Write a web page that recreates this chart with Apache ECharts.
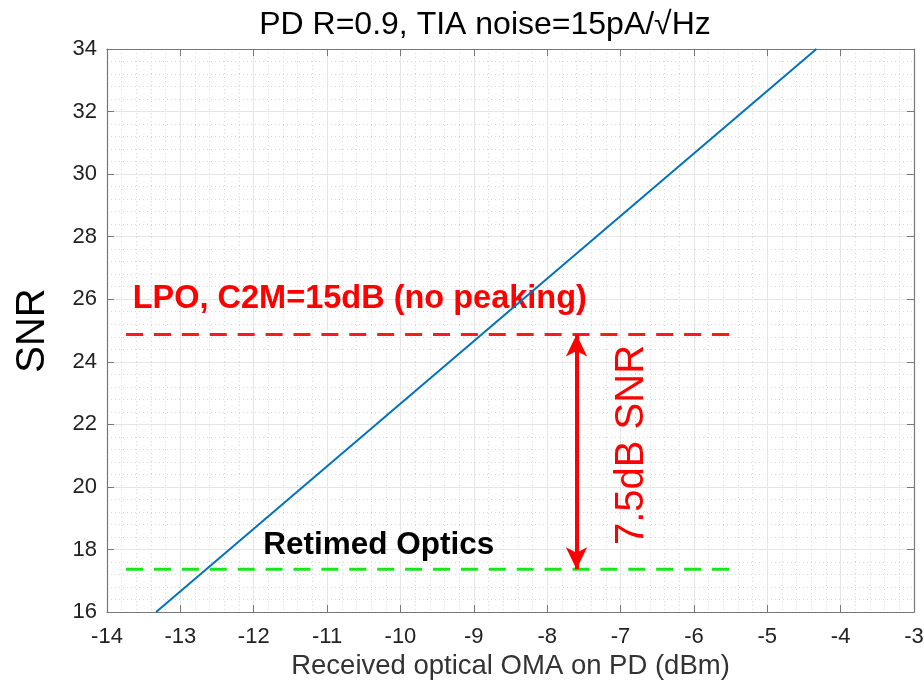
<!DOCTYPE html>
<html><head><meta charset="utf-8">
<script src="https://cdn.jsdelivr.net/npm/echarts@6/dist/echarts.min.js"></script>
<style>html,body{margin:0;padding:0;background:#fff}#c{width:924px;height:681px}</style>
</head><body><div id="c"></div>
<script>
// ---- data ----
const titleText = 'PD R=0.9, TIA noise=15pA/\u221AHz';
const xName = 'Received optical OMA on PD (dBm)';
const yName = 'SNR';
const xRange = [-14, -3];
const yRange = [16, 34];
const snrX = [-13.33, -4.33];
const snrY = [16, 34];
const lpoLevel = 24.87;
const retimedLevel = 17.37;
const refLineX = [-13.74, -5.5];
const arrowX = -7.6;
const lpoLabel = 'LPO, C2M=15dB (no peaking)';
const lpoLabelPos = [-13.65, 26.0];
const retimedLabel = 'Retimed Optics';
const retimedLabelPos = [-11.87, 18.14];
const deltaLabel = '7.5dB SNR';
const deltaLabelPos = [-6.85, 21.34];

const FONT = '"Liberation Sans", Arial, Helvetica, sans-serif';
const chart = echarts.init(document.getElementById('c'));

function pairs(xs, ys){ return xs.map((x,i)=>[x, ys[i]]); }

const baseX = {type:'value', min:xRange[0], max:xRange[1], interval:1};
const baseY = {type:'value', min:yRange[0], max:yRange[1], interval:2};

chart.setOption({
  backgroundColor:'#fff',
  animation:false,
  title:{text:titleText, left:480, textAlign:'center', top:4, textStyle:{fontFamily:FONT, fontSize:32, fontWeight:'normal', color:'#000'}},
  grid:{left:107, right:10, top:49, bottom:69, containLabel:false, outerBoundsMode:'none'},
  xAxis:[
    Object.assign({}, baseX, {
      position:'bottom',
      name:xName, nameLocation:'middle', nameGap:40,
      nameTextStyle:{fontFamily:FONT, fontSize:27.5, color:'#333'},
      axisLine:{onZero:false, lineStyle:{color:'#777', width:1.2}},
      axisTick:{inside:true, length:7, lineStyle:{color:'#777'}},
      axisLabel:{fontFamily:FONT, fontSize:22, color:'#222', margin:14},
      splitLine:{show:true, lineStyle:{color:'#e6e6e6', width:1}},
      minorTick:{show:false, splitNumber:5},
      minorSplitLine:{show:true, lineStyle:{color:'#d8d8d8', width:1, type:[1,3]}}
    }),
    Object.assign({}, baseX, {
      position:'top',
      axisLine:{onZero:false, lineStyle:{color:'#777', width:1.2}},
      axisTick:{inside:true, length:7, lineStyle:{color:'#777'}},
      axisLabel:{show:false}, splitLine:{show:false}
    })
  ],
  yAxis:[
    Object.assign({}, baseY, {
      position:'left',
      name:yName, nameLocation:'middle', nameGap:54, nameRotate:90,
      nameTextStyle:{fontFamily:FONT, fontSize:40, color:'#000'},
      axisLine:{onZero:false, lineStyle:{color:'#777', width:1.2}},
      axisTick:{inside:true, length:7, lineStyle:{color:'#777'}},
      axisLabel:{fontFamily:FONT, fontSize:22, color:'#222', margin:10},
      splitLine:{show:true, lineStyle:{color:'#e6e6e6', width:1}},
      minorTick:{show:false, splitNumber:5},
      minorSplitLine:{show:true, lineStyle:{color:'#d8d8d8', width:1, type:[1,3]}}
    }),
    Object.assign({}, baseY, {
      position:'right',
      axisLine:{onZero:false, lineStyle:{color:'#777', width:1.2}},
      axisTick:{inside:true, length:7, lineStyle:{color:'#777'}},
      axisLabel:{show:false}, splitLine:{show:false}
    })
  ],
  series:[
    {type:'line', data:pairs(snrX, snrY), symbol:'none', lineStyle:{color:'#0072BD', width:2}},
    {type:'line', data:pairs(refLineX, [lpoLevel, lpoLevel]), symbol:'none',
      lineStyle:{color:'#ff1a1a', width:3, type:[17,10.9]}},
    {type:'line', data:pairs(refLineX, [retimedLevel, retimedLevel]), symbol:'none',
      lineStyle:{color:'#19e619', width:3, type:[17,10.9]},
      markLine:{silent:true, symbol:['arrow','arrow'], symbolSize:[16,22],
        label:{show:false},
        lineStyle:{color:'#ff0000', width:4, type:'solid'},
        data:[[{coord:[arrowX, lpoLevel]}, {coord:[arrowX, retimedLevel]}]]}}
  ]
});

function place(){
  const p1 = chart.convertToPixel({gridIndex:0}, lpoLabelPos);
  const p2 = chart.convertToPixel({gridIndex:0}, retimedLabelPos);
  const p3 = chart.convertToPixel({gridIndex:0}, deltaLabelPos);
  chart.setOption({graphic:[
    {type:'text', x:p1[0], y:p1[1], style:{text:lpoLabel, fill:'#ff0000', font:'bold 32.5px '+FONT, textAlign:'left', textVerticalAlign:'middle'}},
    {type:'text', x:p2[0], y:p2[1], style:{text:retimedLabel, fill:'#000', font:'bold 31.5px '+FONT, textAlign:'left', textVerticalAlign:'middle'}},
    {type:'text', x:p3[0], y:p3[1], rotation:Math.PI/2, style:{text:deltaLabel, fill:'#ff0000', font:'40px '+FONT, textAlign:'center', textVerticalAlign:'middle'}}
  ]});
}
place();
</script>
</body></html>
